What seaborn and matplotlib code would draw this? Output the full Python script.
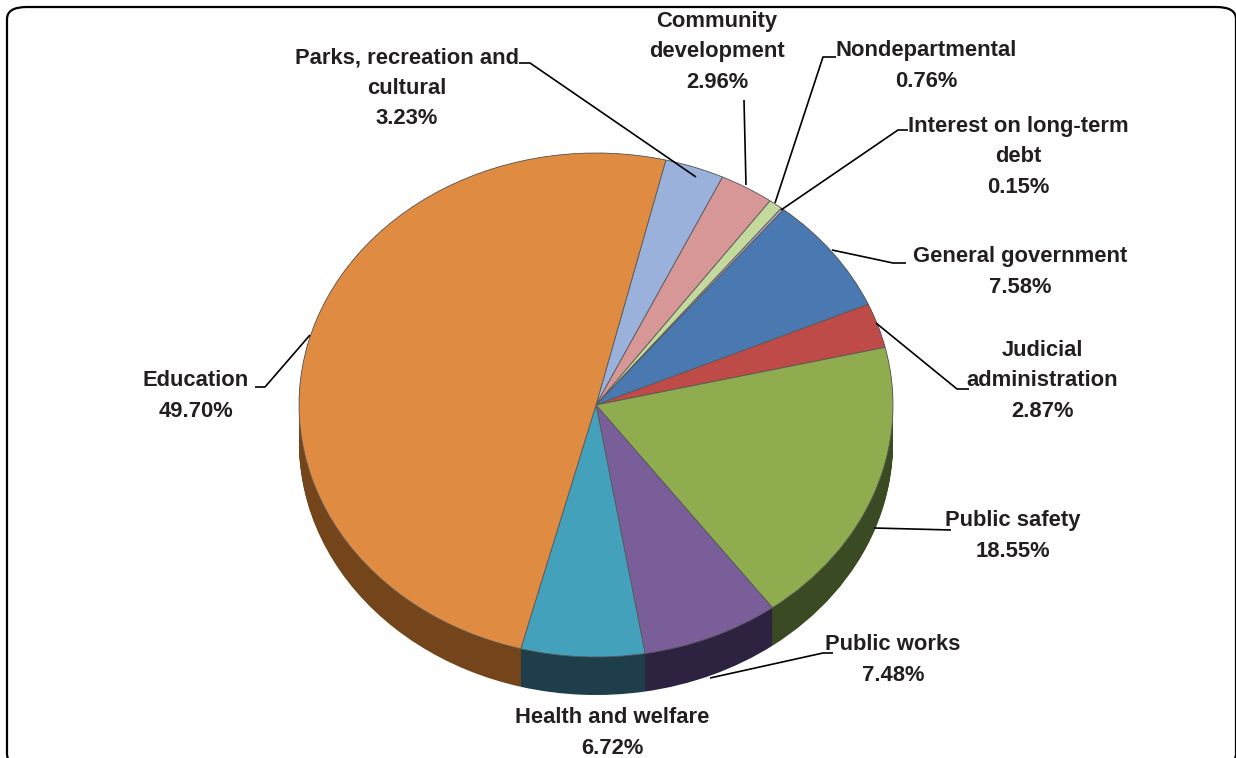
import numpy as np
import pandas as pd
import seaborn as sns
import matplotlib
matplotlib.use("Agg")
import matplotlib.pyplot as plt
from matplotlib.patches import FancyBboxPatch

# ---------------- data ----------------
categories = ["Parks, recreation and\ncultural", "Community\ndevelopment", "Nondepartmental",
              "Interest on long-term\ndebt", "General government", "Judicial\nadministration",
              "Public safety", "Public works", "Health and welfare", "Education"]
shares = [3.23, 2.96, 0.76, 0.15, 7.58, 2.87, 18.55, 7.48, 6.72, 49.70]
top_colors = ["#9AB2DB", "#D79796", "#C4DA9D", "#B5A6CB", "#4A78B0", "#BE4B48",
              "#8FAD4F", "#7A5E9A", "#43A1BC", "#E08B42"]
side_colors = ["#5a6a85", "#7d5655", "#6f7c58", "#675e76", "#263f60", "#6a2726",
               "#3a4a22", "#2d2340", "#1d3e4a", "#74451a"]

df = pd.DataFrame({"category": categories, "share": shares})

# ---------------- layout (pixels) ----------------
W, H = 1236, 758
cx, cy, rx, ry = 596, 405, 297, 252
depth = 38

def px(x):
    return (x - cx) / rx

def py(y):
    return (cy - y) / ry

sns.set_theme(style="white")
plt.rcParams["font.family"] = ["Liberation Sans", "DejaVu Sans"]

fig = plt.figure(figsize=(W / 100, H / 100), dpi=100)
ax = fig.add_axes([0, 0, 1, 1])

start = 76.4
# 3D side: stacked layers of darker pies
n_layers = 40
for i in range(n_layers + 1):
    off = -depth / ry * (1 - i / n_layers)
    ax.pie(df["share"], colors=side_colors, startangle=start, counterclock=False,
           radius=1.0, center=(0, off), frame=True,
           wedgeprops=dict(linewidth=0, antialiased=True))
# top face
ax.pie(df["share"], colors=top_colors, startangle=start, counterclock=False,
       radius=1.0, center=(0, 0), frame=True,
       wedgeprops=dict(linewidth=0.6, edgecolor="#5a5a5a"))
ax.set_xlim(px(0), px(W))
ax.set_ylim(py(H), py(0))
ax.set_aspect("auto")
ax.axis("off")

# ---------------- labels ----------------
label_pos = [(407, 88), (717, 52), (926, 66), (1018, 157), (1020, 272),
             (1042, 381), (1013, 536), (893, 660), (612, 733), (196, 396)]
for name, val, (lx, ly) in zip(df["category"], df["share"], label_pos):
    ax.text(px(lx), py(ly), f"{name}\n{val:.2f}%", ha="center", va="center",
            fontsize=15.8, fontweight="bold", color="#231f20", linespacing=1.58)

leaders = [
    [(519, 63), (530, 63), (696, 177)],
    [(744, 100), (746, 185)],
    [(836, 57), (823, 57), (775, 203)],
    [(908, 130), (898, 130), (781, 210)],
    [(906, 263), (893, 263), (832, 250)],
    [(876, 323), (957, 389), (969, 389)],
    [(874, 528), (951, 530)],
    [(710, 678), (823, 653), (833, 653)],
    [(310, 335), (265, 387), (255, 387)],
]
for pts in leaders:
    xs = [px(p[0]) for p in pts]
    ys = [py(p[1]) for p in pts]
    ax.plot(xs, ys, color="black", lw=1.2, solid_capstyle="butt")

# rounded frame
frame = FancyBboxPatch((7 / W, 1 - 766 / H), (1236 - 7) / W, (766 - 7) / H,
                       boxstyle="round,pad=0,rounding_size=0.016",
                       transform=fig.transFigure, fill=False, edgecolor="black",
                       linewidth=1.6, clip_on=False)
fig.patches.append(frame)

fig.savefig("out.png", dpi=100)
